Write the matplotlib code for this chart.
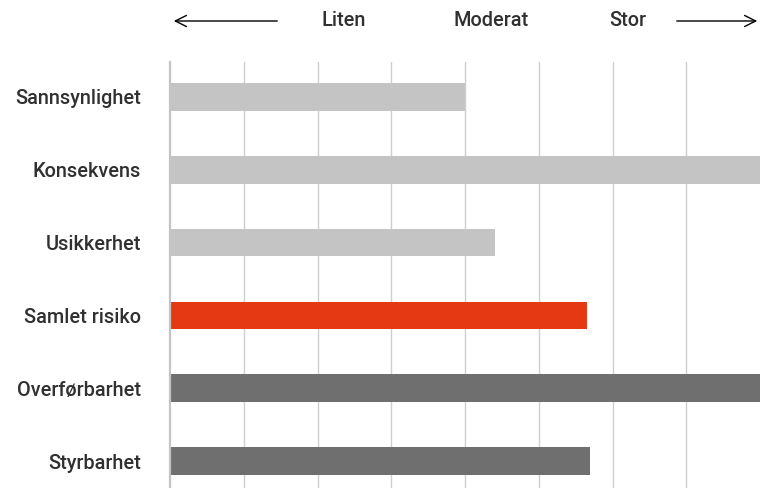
import matplotlib.pyplot as plt
from matplotlib.patches import FancyArrowPatch

categories = ["Sannsynlighet", "Konsekvens", "Usikkerhet",
              "Samlet risiko", "Overførbarhet", "Styrbarhet"]
values = [4.0, 8.0, 4.4, 5.65, 8.0, 5.7]
bar_colors = ["#c4c4c4", "#c4c4c4", "#c4c4c4", "#e53914", "#6f6f6f", "#6f6f6f"]
scale_labels = ["Liten", "Moderat", "Stor"]
scale_pos = [2.35, 4.35, 6.2]

plt.rcParams['font.family'] = ['Roboto', 'DejaVu Sans']
txt_color = "#303030"

fig = plt.figure(figsize=(7.6, 4.88), dpi=100)
ax = fig.add_axes([170 / 760, 0, 590 / 760, (488 - 62) / 488])

ypos = list(range(len(categories)))
ax.barh(ypos, values, height=0.38, color=bar_colors, zorder=2)

ax.set_xlim(0, 8)
ax.set_ylim(5.37, -0.48)
ax.set_xticks(range(1, 8))
ax.xaxis.grid(True, color="#cfcfcf", linewidth=1.0, zorder=0)
ax.tick_params(axis='x', length=0, labelbottom=False)
ax.tick_params(axis='y', length=0, pad=21, labelsize=14.3, labelcolor=txt_color)
ax.set_yticks(ypos)
ax.set_yticklabels(categories, fontweight="medium")
for side in ["top", "right", "bottom"]:
    ax.spines[side].set_visible(False)
ax.spines["left"].set_color("#c4c4c4")
ax.spines["left"].set_linewidth(1.6)

# scale header above the plot
hy = 1 - 21 / 488
for lab, x in zip(scale_labels, scale_pos):
    fx = (170 + x / 8 * 590) / 760
    fig.text(fx, hy, lab, ha="center", va="center", fontsize=14.3,
             fontweight="medium", color=txt_color)

arrow_kw = dict(arrowstyle="->", color="black", lw=1.0, mutation_scale=20)
fig.add_artist(FancyArrowPatch(
    (280 / 760, hy), (171 / 760, hy), transform=fig.transFigure, **arrow_kw))
fig.add_artist(FancyArrowPatch(
    (674 / 760, hy), (760 / 760, hy), transform=fig.transFigure, **arrow_kw))

fig.savefig("out.png", dpi=100)
